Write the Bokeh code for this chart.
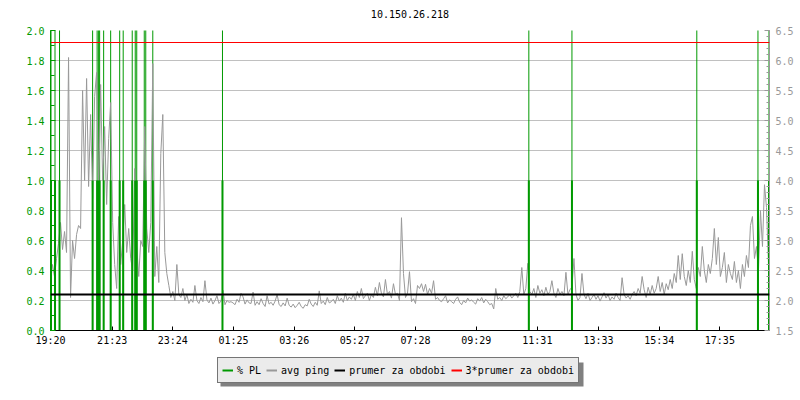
from bokeh.plotting import figure
from bokeh.layouts import column
from bokeh.core.properties import value
from bokeh.models import (Range1d, LinearAxis, FixedTicker, SingleIntervalTicker, Span,
                          Legend, LegendItem, PrintfTickFormatter)
from bokeh.embed import file_html
from bokeh.resources import INLINE

# ---------------- data ----------------
chart_title = "10.150.26.218"
tick_minutes = [0, 123, 244, 365, 486, 607, 728, 849, 971, 1093, 1214, 1335]
tick_labels = ["19:20", "21:23", "23:24", "01:25", "03:26", "05:27",
               "07:28", "09:29", "11:31", "13:33", "15:34", "17:35"]
span_minutes = 1434
sample_step = 4  # minutes between ping samples

# avg ping [ms], one sample every 4 minutes from 19:20
ping = [
    2.30, 2.60, 2.40, 2.70, 2.95, 3.30, 2.85, 3.15, 2.80, 6.05,
    2.05, 3.00, 2.70, 3.10, 3.25, 3.20, 5.50, 4.00, 5.70, 3.90,
    5.10, 3.70, 5.40, 5.80, 3.80, 5.60, 4.00, 4.90, 3.60, 4.70,
    5.30, 3.30, 2.60, 2.20, 3.40, 2.60, 3.00, 3.60, 2.80, 3.20,
    2.70, 2.50, 4.20, 2.90, 2.40, 3.00, 2.90, 4.90, 3.20, 2.80,
    3.30, 5.95, 2.40, 2.90, 2.30, 4.45, 5.10, 2.80, 2.45, 2.25,
    2.05, 2.15, 2.00, 2.60, 2.10, 2.05, 2.20, 2.00, 2.10, 1.95,
    2.02, 1.97, 2.25, 2.00, 1.95, 2.05, 1.98, 2.33, 2.01, 1.96,
    2.04, 1.94, 2.00, 2.08, 1.95, 1.99, 2.17, 1.93, 2.00, 1.97,
    1.98, 1.96, 1.93, 2.02, 1.97, 2.12, 2.06, 1.94, 2.01, 1.96,
    1.95, 2.14, 1.92, 1.98, 1.93, 2.03, 1.95, 1.90, 2.08, 1.94,
    1.97, 1.92, 1.99, 2.10, 1.93, 1.90, 1.96, 1.91, 2.04, 1.92,
    1.89, 1.94, 1.88, 1.92, 1.97, 1.90, 1.87, 1.93, 1.91, 2.02,
    1.94, 1.90, 1.97, 1.92, 2.16, 1.95, 1.99, 1.93, 2.05, 1.96,
    1.98, 2.02, 1.95, 2.08, 1.99, 2.04, 1.97, 2.12, 2.00, 2.06,
    2.02, 2.10, 2.00, 2.15, 2.05, 2.20, 2.03, 2.08, 2.12, 2.00,
    2.10, 2.05, 2.22, 2.08, 2.30, 2.12, 2.06, 2.35, 2.10, 2.15,
    2.04, 2.28, 2.10, 2.12, 2.00, 3.38, 2.45, 2.05, 2.12, 2.48,
    1.98, 2.03, 1.95, 2.25, 2.20, 2.28, 2.15, 2.27, 2.10, 2.20,
    2.12, 2.33, 2.02, 2.05, 2.00, 1.98, 2.03, 2.08, 1.96, 2.01,
    1.98, 1.95, 2.02, 2.06, 1.97, 1.93, 2.00, 1.96, 2.04, 1.99,
    2.01, 1.97, 1.94, 2.03, 1.99, 2.05, 1.96, 2.02, 1.98, 1.93,
    1.95, 1.86, 2.20, 2.02, 2.05, 2.00, 2.08, 2.03, 2.06, 2.10,
    2.04, 2.08, 2.12, 2.05, 2.15, 2.55, 2.10, 2.20, 2.62, 2.15,
    2.10, 2.20, 2.05, 2.25, 2.12, 2.18, 2.08, 2.22, 2.10, 2.15,
    2.33, 2.12, 2.05, 2.20, 2.10, 2.15, 2.08, 2.47, 2.10, 2.18,
    2.22, 2.70, 2.10, 2.00, 2.05, 2.45, 2.10, 2.03, 2.12, 2.00,
    2.05, 2.10, 2.02, 2.08, 1.99, 2.06, 2.13, 2.04, 2.10, 2.00,
    2.06, 2.02, 2.12, 2.05, 2.00, 2.38, 2.10, 2.04, 2.08, 2.02,
    2.10, 2.15, 2.08, 2.20, 2.12, 2.40, 2.18, 2.05, 2.22, 2.10,
    2.25, 2.12, 2.20, 2.40, 2.15, 2.30, 2.10, 2.28, 2.18, 2.35,
    2.20, 2.45, 2.30, 2.75, 2.35, 2.78, 2.40, 2.25, 2.50, 2.30,
    2.82, 2.35, 2.20, 2.55, 2.40, 2.90, 2.50, 2.30, 2.60, 2.45,
    2.70, 3.20, 2.60, 3.05, 2.40, 2.55, 2.80, 2.30, 2.60, 2.45,
    2.35, 2.65, 2.30, 2.50, 2.20, 2.60, 2.40, 2.75, 2.55, 3.25,
    3.40, 2.70, 2.90, 2.50, 3.50, 2.90, 3.93, 3.55, 2.60,
]
ping_minutes = [i * sample_step for i in range(len(ping))]

# packet loss events (minutes after 19:20) with peak and base levels
pl_minutes = [1, 9, 18, 84, 93, 96, 98, 106, 120, 138, 145, 163, 169, 172,
              187, 190, 204, 343, 954, 1040, 1289, 1411, 1433]
pl_peak = [100, 100, 100, 100, 100, 100, 100, 100, 100, 100, 100, 100,
           100, 100, 100, 100, 100, 100, 100, 100, 100, 100, 100]
pl_base = [1.0, 1.0, 1.0, 1.0, 1.0, 1.0, 1.0, 1.0, 1.0, 1.0, 1.0, 1.0,
           1.0, 1.0, 1.0, 1.0, 1.0, 1.0, 1.0, 1.0, 1.0, 1.0, 1.0]
pl_zero = [0] * len(pl_minutes)

mean_ping = 2.1

legend_labels = ["% PL", "avg ping", "prumer za obdobi", "3*prumer za obdobi"]

# ---------------- style ----------------
GREEN = "#009900"
GRAY = "#999999"
GRID = "#c0c0c0"
FONT = "DejaVu Sans Mono"
FS = "10px"

# ---------------- title strip ----------------
# ranges set so that one unit equals one pixel (x: page px, y: px from strip top)
tf = figure(width=800, height=24, output_backend="svg", toolbar_location=None,
            x_axis_type=None, y_axis_type=None, x_range=Range1d(50, 769),
            y_range=Range1d(24, 0), min_border=0)
tf.outline_line_color = None
tf.grid.visible = False
tf.border_fill_color = "white"
tf.text(x=[(50 + 769) / 2], y=[13], text=[chart_title], text_font=value(FONT),
        text_font_size=FS, text_color="black", text_align="center",
        text_baseline="middle")

# ---------------- main chart ----------------
p = figure(width=800, height=326, output_backend="svg", toolbar_location=None,
           x_range=Range1d(0, span_minutes), y_range=Range1d(0, 2.0),
           min_border_left=50, min_border_right=31, min_border_top=6,
           min_border_bottom=20)
p.extra_y_ranges = {"ping": Range1d(1.5, 6.5)}
p.outline_line_color = None
p.background_fill_color = "white"
p.border_fill_color = "white"

# x axis
xa = p.xaxis[0]
xa.ticker = FixedTicker(ticks=tick_minutes, minor_ticks=[])
xa.major_label_overrides = {t: l for t, l in zip(tick_minutes, tick_labels)}
xa.major_tick_in = 4
xa.major_tick_out = 0
xa.minor_tick_in = 0
xa.minor_tick_out = 0
xa.axis_line_color = "black"
xa.major_tick_line_color = "black"
xa.major_label_text_font = FONT
xa.major_label_text_font_size = FS
xa.major_label_text_color = "black"
xa.major_label_standoff = 4
p.xgrid.visible = False

# left axis
ya = p.yaxis[0]
ya.ticker = SingleIntervalTicker(interval=0.2, num_minor_ticks=2)
ya.formatter = PrintfTickFormatter(format="%.1f")
ya.axis_line_color = GREEN
ya.major_tick_line_color = GREEN
ya.minor_tick_line_color = GREEN
ya.major_tick_in = 5
ya.major_tick_out = 0
ya.minor_tick_in = 4
ya.minor_tick_out = 0
ya.major_label_text_color = GREEN
ya.major_label_text_font = FONT
ya.major_label_text_font_size = FS
ya.major_label_standoff = 6
p.ygrid.ticker = SingleIntervalTicker(interval=0.2)
p.ygrid.grid_line_color = GRID

# right axis
ra = LinearAxis(y_range_name="ping",
                ticker=SingleIntervalTicker(interval=0.5, num_minor_ticks=5),
                formatter=PrintfTickFormatter(format="%.1f"))
ra.axis_line_color = GRAY
ra.major_tick_line_color = GRAY
ra.minor_tick_line_color = GRAY
ra.major_tick_in = 5
ra.major_tick_out = 0
ra.minor_tick_in = 3
ra.minor_tick_out = 0
ra.major_label_text_color = GRAY
ra.major_label_text_font = FONT
ra.major_label_text_font_size = FS
ra.major_label_standoff = 6
p.add_layout(ra, "right")

# glyphs
p.segment(x0=pl_minutes, y0=pl_zero, x1=pl_minutes, y1=pl_peak,
          line_color=GREEN, line_width=1)
p.line(ping_minutes, ping, y_range_name="ping", line_color=GRAY, line_width=1)
p.add_layout(Span(location=mean_ping, dimension="width", y_range_name="ping",
                  line_color="black", line_width=2))
p.add_layout(Span(location=3 * mean_ping, dimension="width", y_range_name="ping",
                  line_color="#ff0000", line_width=1))
p.segment(x0=pl_minutes, y0=pl_zero, x1=pl_minutes, y1=pl_base,
          line_color=GREEN, line_width=2)

# ---------------- legend strip ----------------
lf = figure(width=800, height=50, output_backend="svg", toolbar_location=None,
            x_axis_type=None, y_axis_type=None, x_range=Range1d(50, 769),
            y_range=Range1d(50, 0), min_border=0)
lf.outline_line_color = None
lf.grid.visible = False
lf.background_fill_color = "white"
lf.border_fill_color = "white"

# drop shadow behind the legend box
lf.quad(left=[220], right=[583], top=[12], bottom=[36],
        fill_color="#808080", line_color=None)

colors = [GREEN, GRAY, "black", "#ff0000"]
# off-screen proxy lines used only to draw the legend swatches
proxies = [lf.line(x=[0, 1], y=[-50, -50], line_color=c, line_width=2) for c in colors]

lg = Legend(items=[LegendItem(label=l, renderers=[r]) for l, r in zip(legend_labels, proxies)],
            location=(167, 17), orientation="horizontal")
lg.background_fill_color = "#ebebeb"
lg.background_fill_alpha = 1.0
lg.border_line_color = "black"
lg.border_line_width = 1
lg.label_text_font = FONT
lg.label_text_font_size = FS
lg.label_text_color = "black"
lg.padding = 4
lg.spacing = 5
lg.margin = 0
lg.glyph_width = 11
lg.glyph_height = 16
lg.label_height = 16
lg.label_standoff = 4
lf.add_layout(lg, "center")

layout = column(tf, p, lf)
open("out.html", "w").write(file_html(layout, INLINE))
